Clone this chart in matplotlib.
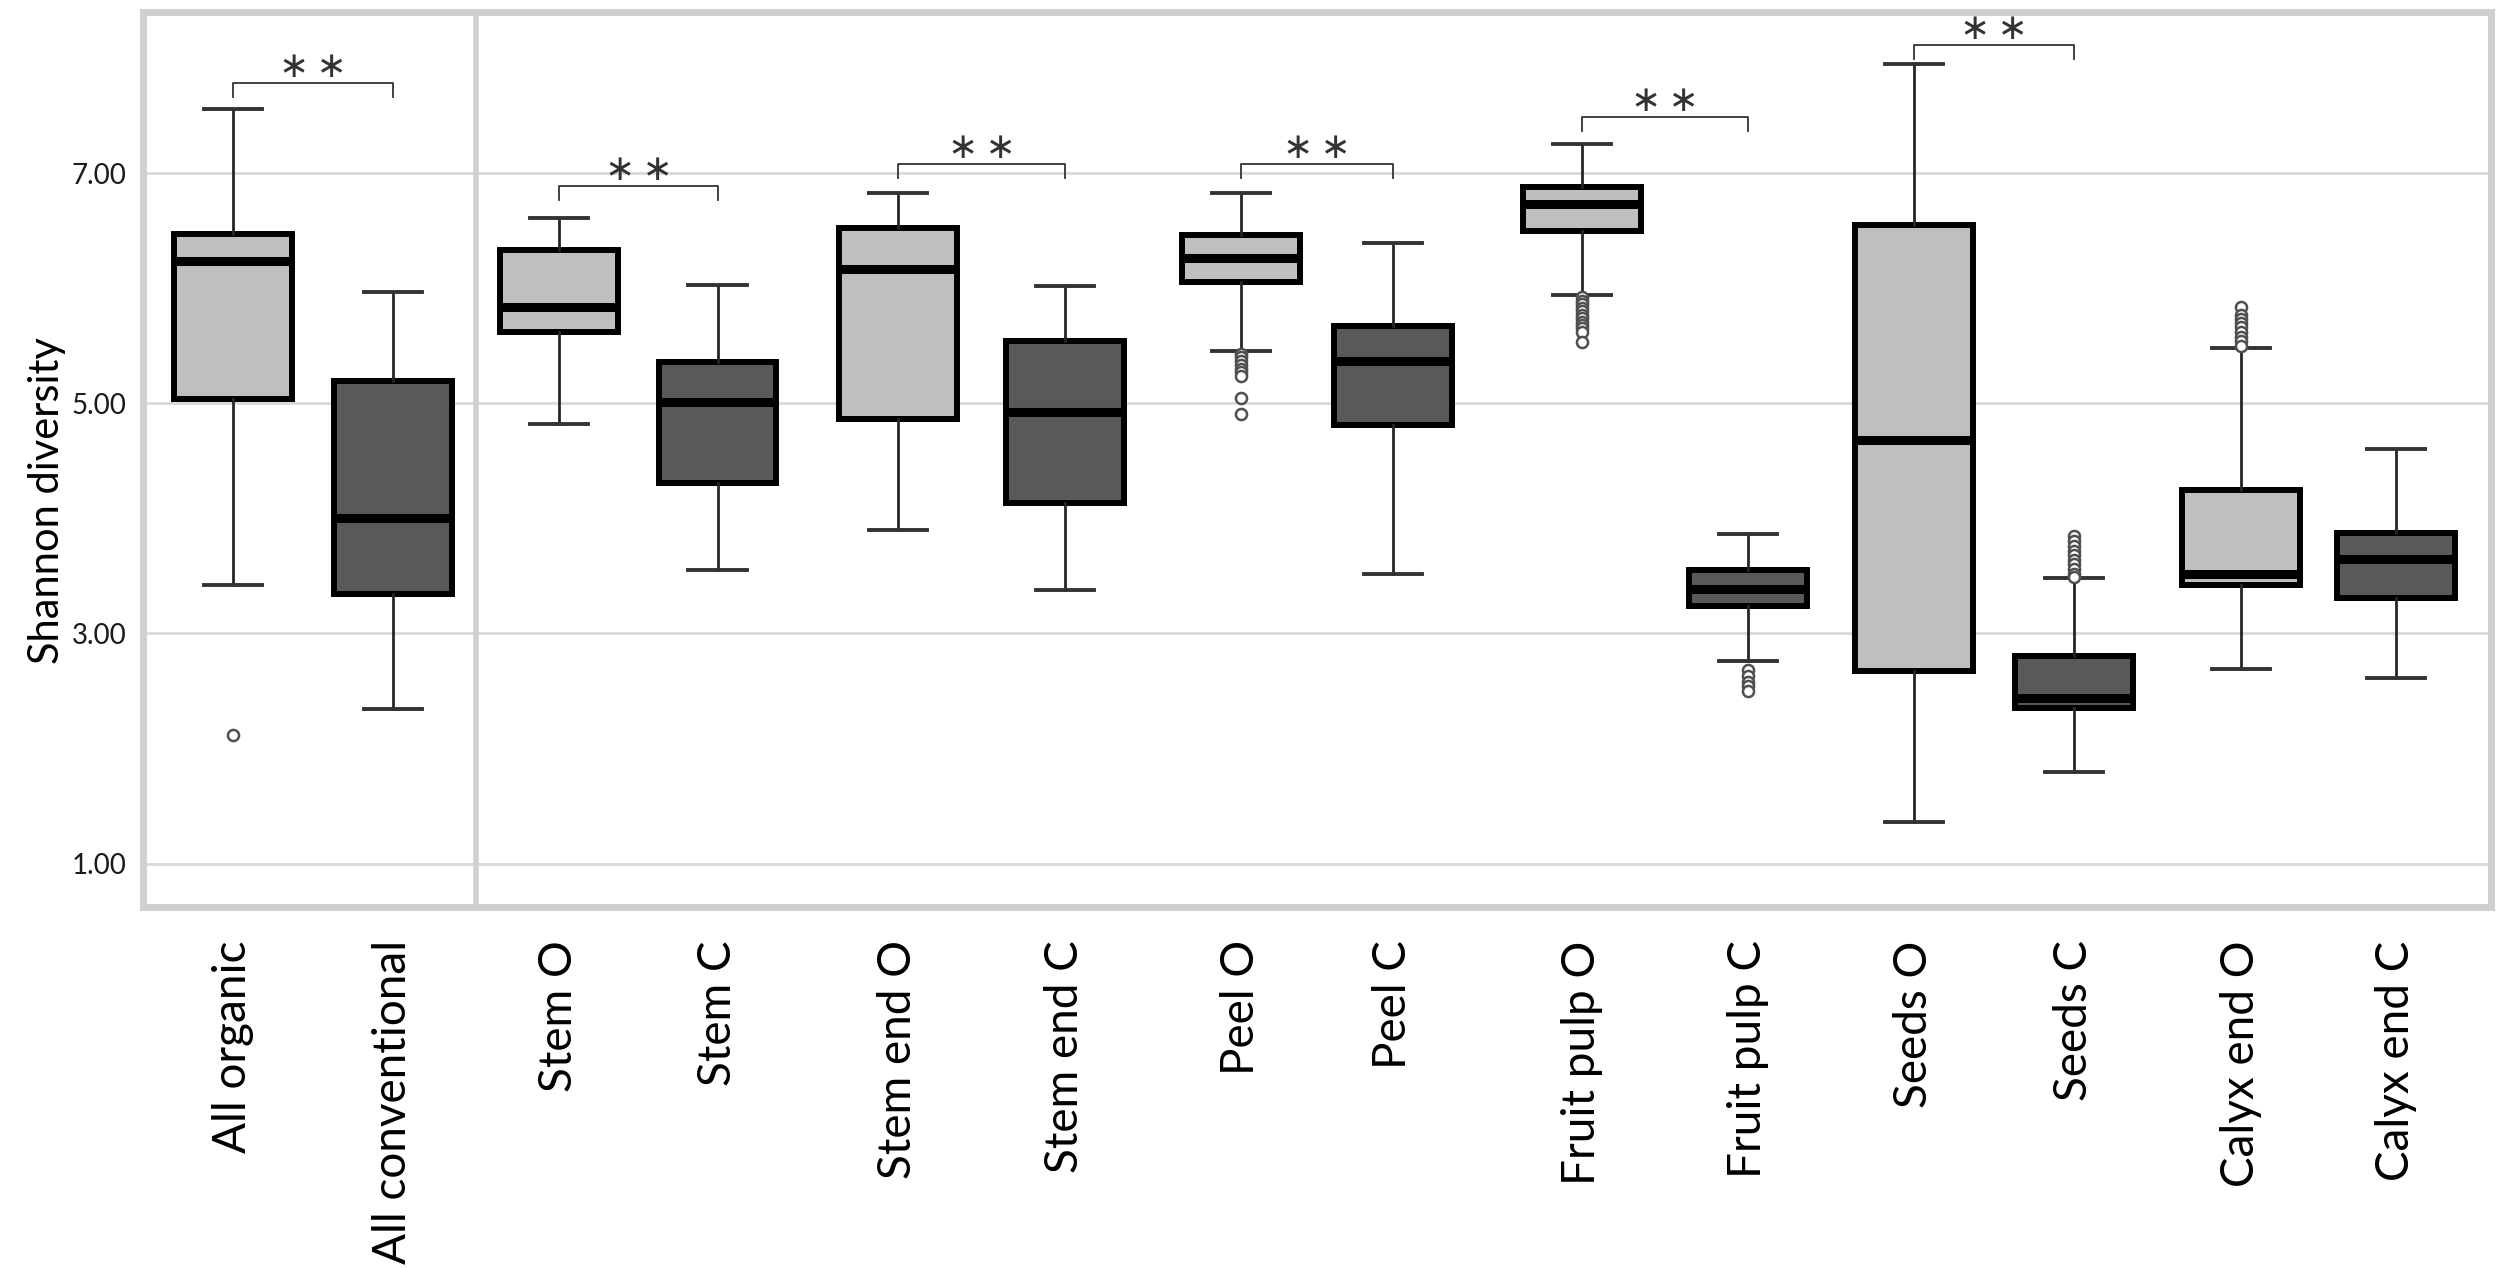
import matplotlib
matplotlib.use("Agg")
import matplotlib.pyplot as plt

plt.rcParams['font.family'] = ['Lato', 'DejaVu Sans']

# groups
labels = ["All organic", "All conventional", "Stem O", "Stem C",
          "Stem end O", "Stem end C", "Peel O", "Peel C",
          "Fruit pulp O", "Fruit pulp C", "Seeds O", "Seeds C",
          "Calyx end O", "Calyx end C"]
organic = [True, False] * 7

whis_lo = [3.42, 2.34, 4.82, 3.55, 3.90, 3.38, 5.45, 3.52, 5.94, 2.76, 1.36, 1.80, 2.69, 2.61]
q1      = [5.04, 3.34, 5.62, 4.31, 4.86, 4.13, 6.05, 4.81, 6.50, 3.24, 2.67, 2.35, 3.42, 3.31]
median  = [6.24, 4.00, 5.84, 5.01, 6.17, 4.92, 6.26, 5.37, 6.73, 3.39, 4.68, 2.44, 3.52, 3.65]
q3      = [6.47, 5.19, 6.33, 5.36, 6.52, 5.54, 6.46, 5.67, 6.88, 3.55, 6.55, 2.80, 4.25, 3.87]
whis_hi = [7.56, 5.97, 6.61, 6.03, 6.83, 6.02, 6.83, 6.39, 7.25, 3.86, 7.95, 3.48, 5.48, 4.60]
outliers = [
    [2.12], [], [], [], [], [],
    [5.43, 5.40, 5.37, 5.33, 5.30, 5.27, 5.24, 5.05, 4.91],
    [],
    [5.92, 5.89, 5.86, 5.83, 5.80, 5.77, 5.74, 5.71, 5.68, 5.65, 5.62, 5.53],
    [2.68, 2.63, 2.58, 2.54, 2.50],
    [],
    [3.85, 3.80, 3.76, 3.72, 3.68, 3.64, 3.60, 3.56, 3.52, 3.49],
    [5.84, 5.77, 5.73, 5.70, 5.66, 5.62, 5.58, 5.54, 5.50],
    [],
]

# significance brackets: (index of O group, height)
sig_pairs = [0, 2, 4, 6, 8, 10]
sig_height = [7.78, 6.89, 7.08, 7.08, 7.49, 8.11]
sig_text = "\u2217\u2009\u2217"

# layout
positions = [0, 0.99, 2.02, 3.00, 4.12, 5.15, 6.24, 7.18, 8.35, 9.38, 10.41, 11.40, 12.43, 13.39]
light = '#bfbfbf'
dark = '#595959'
frame = '#d0d0d0'

fig = plt.figure(figsize=(25, 12.69), dpi=100)
ax = fig.add_axes([143/2500, 1-907/1269, (2491-143)/2500, (907-12)/1269])

stats = []
for i in range(len(labels)):
    stats.append(dict(label=labels[i], med=median[i], q1=q1[i], q3=q3[i],
                      whislo=whis_lo[i], whishi=whis_hi[i], fliers=outliers[i]))

bp = ax.bxp(stats, positions=positions, widths=0.73, capwidths=0.36,
            patch_artist=True, showfliers=True,
            boxprops=dict(linewidth=4.3, edgecolor='black'),
            medianprops=dict(color='black', linewidth=6.5, solid_capstyle='butt'),
            whiskerprops=dict(color='#262626', linewidth=2),
            capprops=dict(color='#333333', linewidth=2.8),
            flierprops=dict(marker='o', markersize=8, markerfacecolor='white',
                            markeredgecolor='#505050', markeredgewidth=1.8))
for patch, org in zip(bp['boxes'], organic):
    patch.set_facecolor(light if org else dark)

# brackets
for k, h in zip(sig_pairs, sig_height):
    x0, x1 = positions[k], positions[k + 1]
    ax.plot([x0, x0, x1, x1], [h - 0.12, h, h, h - 0.12], color='#333333', lw=1.3)
    ax.text((x0 + x1) / 2, h + 0.14, sig_text, ha='center', va='center',
            fontsize=26, color='#333333', family='DejaVu Sans')

ax.set_xlim(-0.557, 13.98)
ax.set_ylim(0.623, 8.40)
ax.set_yticks([1, 3, 5, 7])
ax.set_yticklabels(["1.00", "3.00", "5.00", "7.00"])
ax.yaxis.grid(True, color='#d9d9d9', linewidth=2)
ax.set_axisbelow(True)
ax.tick_params(axis='y', length=0, pad=12, labelsize=20, labelcolor='#1a1a1a')
ax.tick_params(axis='x', length=0, pad=24, labelsize=33, labelrotation=90)
ax.set_xticks(positions)
ax.set_xticklabels(labels)

for s in ax.spines.values():
    s.set_color(frame)
    s.set_linewidth(5)
ax.axvline(1.505, color=frame, lw=4)

fig.text(47/2500, 1-501/1269, "Shannon diversity", rotation=90, ha='center',
         va='center', fontsize=30)

fig.savefig("out.png", dpi=100)
